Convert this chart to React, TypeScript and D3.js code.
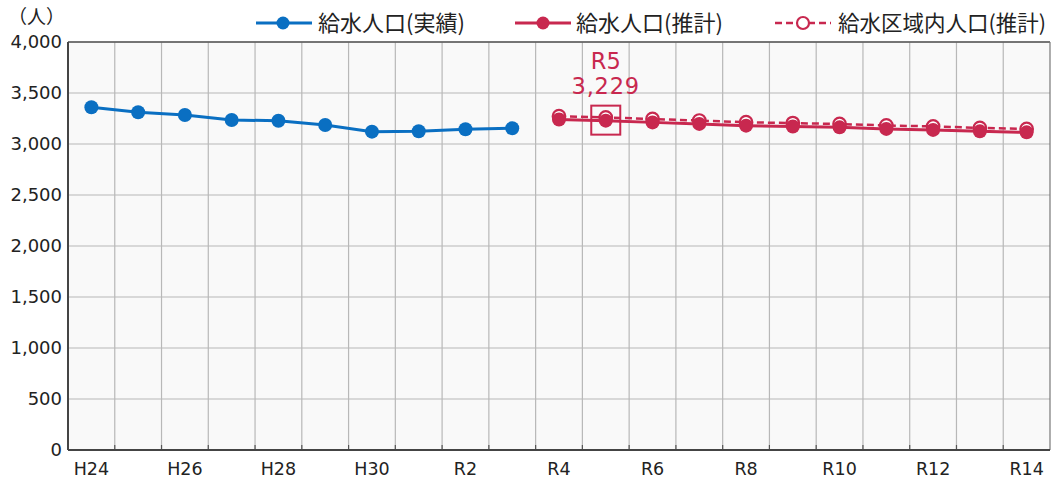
import React from "react";
import * as d3 from "d3";

const categories = [
  "H24","H25","H26","H27","H28","H29","H30",
  "R1","R2","R3","R4","R5","R6","R7","R8","R9","R10","R11","R12","R13","R14",
];
const tickLabels = ["H24","H26","H28","H30","R2","R4","R6","R8","R10","R12","R14"];
const actualCats = ["H24","H25","H26","H27","H28","H29","H30","R1","R2","R3"];
const actualValues = [3360, 3311, 3284, 3235, 3228, 3186, 3121, 3125, 3144, 3154];
const estCats = ["R4","R5","R6","R7","R8","R9","R10","R11","R12","R13","R14"];
const estValues = [3240, 3229, 3212, 3197, 3180, 3172, 3163, 3148, 3138, 3124, 3114];
const areaValues = [3272, 3260, 3245, 3230, 3213, 3205, 3196, 3182, 3172, 3158, 3148];
const yTicks = [0, 500, 1000, 1500, 2000, 2500, 3000, 3500, 4000];
const legendLabels = ["給水人口(実績)", "給水人口(推計)", "給水区域内人口(推計)"];
const highlight = { cat: "R5", value: 3229 };

const BLUE = "#0a6fc2";
const RED = "#c8284f";
const FONT = "'Noto Sans CJK JP', 'Noto Sans', sans-serif";
const NUMFONT = "'DejaVu Sans', sans-serif";

export default function App() {
  const W = 1054, H = 481;
  const left = 68, right = 1050, top = 42, bottom = 450;
  const x = d3.scaleBand<string>().domain(categories).range([left, right]);
  const cx = (c: string) => (x(c) as number) + x.bandwidth() / 2;
  const y = d3.scaleLinear().domain([0, 4000]).range([bottom, top]);
  const line = d3.line<[string, number]>().x(d => cx(d[0])).y(d => y(d[1]));
  const actual = actualCats.map((c, i) => [c, actualValues[i]] as [string, number]);
  const est = estCats.map((c, i) => [c, estValues[i]] as [string, number]);
  const area = estCats.map((c, i) => [c, areaValues[i]] as [string, number]);
  const fmt = d3.format(",");
  const boundaries = categories.slice(1).map(c => x(c) as number);

  const legendY = 23;
  return (
    <svg width={W} height={H} style={{ position: "absolute", left: 0, top: 0, fontFamily: FONT }}>
      <rect x={0} y={0} width={W} height={H} fill="#fff" />
      <rect x={left} y={top} width={right - left} height={bottom - top} fill="#f9f9f9" />
      {yTicks.map(t => (
        <line key={"hy" + t} x1={left} x2={right} y1={y(t)} y2={y(t)} stroke="#b8b8b8" strokeWidth={1.2} />
      ))}
      {boundaries.map((b, i) => (
        <line key={"vx" + i} x1={b} x2={b} y1={top} y2={bottom} stroke="#b8b8b8" strokeWidth={1.2} />
      ))}
      {boundaries.map((b, i) => (
        <line key={"tk" + i} x1={b} x2={b} y1={bottom - 5} y2={bottom} stroke="#555" strokeWidth={1.2} />
      ))}
      <line x1={left} x2={right} y1={top} y2={top} stroke="#555" strokeWidth={1.5} />
      <line x1={right} x2={right} y1={top} y2={bottom} stroke="#777" strokeWidth={1.2} />
      <line x1={left} x2={left} y1={top} y2={bottom} stroke="#444" strokeWidth={2} />
      <line x1={left} x2={right} y1={bottom} y2={bottom} stroke="#444" strokeWidth={2} />

      {yTicks.map(t => (
        <text key={"yl" + t} x={62} y={y(t)} dy="0.36em" textAnchor="end" fontSize={18} fill="#222" fontFamily={NUMFONT}>
          {fmt(t)}
        </text>
      ))}
      {tickLabels.map(c => (
        <text key={"xl" + c} x={cx(c)} y={475} textAnchor="middle" fontSize={17.5} fill="#222" fontFamily={NUMFONT}>
          {c}
        </text>
      ))}
      <text x={36.5} y={24} textAnchor="middle" fontSize={19} fill="#222">（人）</text>

      {/* series: area population (dashed, open circles) */}
      <path d={line(area) || ""} fill="none" stroke={RED} strokeWidth={2.5} strokeDasharray="7,4" />
      {area.map(d => (
        <circle key={"a" + d[0]} cx={cx(d[0])} cy={y(d[1])} r={6.3} fill="#fff" stroke={RED} strokeWidth={2.2} />
      ))}
      {/* estimated */}
      <path d={line(est) || ""} fill="none" stroke={RED} strokeWidth={3} />
      {est.map(d => (
        <circle key={"e" + d[0]} cx={cx(d[0])} cy={y(d[1])} r={7} fill={RED} />
      ))}
      {/* actual */}
      <path d={line(actual) || ""} fill="none" stroke={BLUE} strokeWidth={3} />
      {actual.map(d => (
        <circle key={"b" + d[0]} cx={cx(d[0])} cy={y(d[1])} r={7} fill={BLUE} />
      ))}

      {/* highlight */}
      <rect x={cx(highlight.cat) - 14.5} y={y(highlight.value) - 15} width={29} height={29} fill="none" stroke={RED} strokeWidth={2} />
      <text x={cx(highlight.cat)} y={69} textAnchor="middle" fontSize={22.5} fill={RED} fontFamily={NUMFONT}>{highlight.cat}</text>
      <text x={cx(highlight.cat)} y={94} textAnchor="middle" fontSize={22.5} fill={RED} fontFamily={NUMFONT} letterSpacing={0.8}>{fmt(highlight.value)}</text>

      {/* legend */}
      <line x1={256} x2={312} y1={legendY} y2={legendY} stroke={BLUE} strokeWidth={3} />
      <circle cx={283} cy={legendY} r={6.5} fill={BLUE} />
      <text x={318} y={legendY} dy="0.36em" fontSize={22} fill="#222">{legendLabels[0]}</text>

      <line x1={515} x2={571} y1={legendY} y2={legendY} stroke={RED} strokeWidth={3} />
      <circle cx={543} cy={legendY} r={6.5} fill={RED} />
      <text x={576} y={legendY} dy="0.36em" fontSize={22} fill="#222">{legendLabels[1]}</text>

      <line x1={775} x2={831} y1={legendY} y2={legendY} stroke={RED} strokeWidth={2.5} strokeDasharray="7,4" />
      <circle cx={803} cy={legendY} r={6} fill="#fff" stroke={RED} strokeWidth={2.2} />
      <text x={838} y={legendY} dy="0.36em" fontSize={21.5} fill="#222">{legendLabels[2]}</text>
    </svg>
  );
}
